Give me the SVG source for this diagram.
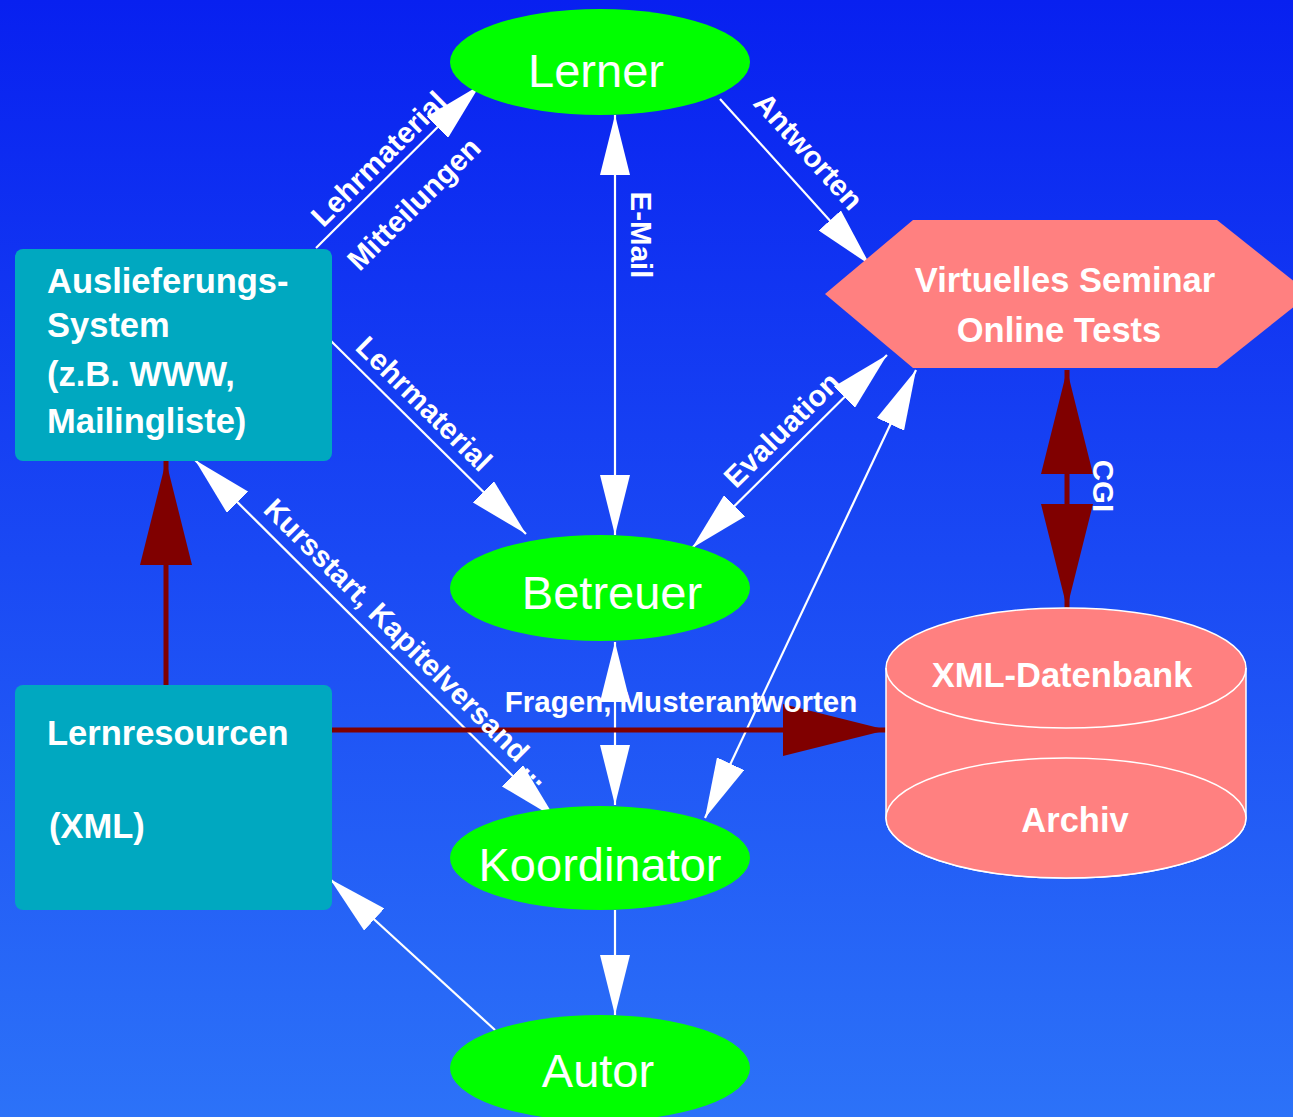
<svg xmlns="http://www.w3.org/2000/svg" width="1293" height="1117" viewBox="0 0 1293 1117">
<defs>
<linearGradient id="bg" x1="0" y1="0" x2="0" y2="1">
<stop offset="0" stop-color="#0820F0"/>
<stop offset="1" stop-color="#2C72F8"/>
</linearGradient>
<marker id="aw" viewBox="0 0 60 30" refX="60" refY="15" markerWidth="60" markerHeight="30" markerUnits="userSpaceOnUse" orient="auto-start-reverse">
<path d="M0,0 L60,15 L0,30 z" fill="#fff"/>
</marker>
<marker id="ar" viewBox="0 0 104 52" refX="104" refY="26" markerWidth="104" markerHeight="52" markerUnits="userSpaceOnUse" orient="auto-start-reverse">
<path d="M0,0 L104,26 L0,52 z" fill="#800000"/>
</marker>
<style>
.ell{fill:#00FF00}
.box{fill:#00A8C0}
.pink{fill:#FF8080}
.big{font-family:"Liberation Sans",Arial,sans-serif;font-size:47px;fill:#fff;text-anchor:middle}
.bt{font-family:"Liberation Sans",Arial,sans-serif;font-size:34.5px;font-weight:bold;fill:#fff}
.lbl{font-family:"Liberation Sans",Arial,sans-serif;font-size:29.5px;font-weight:bold;fill:#fff;text-anchor:middle}
.w{stroke:#fff;stroke-width:2.2;fill:none}
.r{stroke:#800000;stroke-width:5;fill:none}
</style>
</defs>
<rect x="0" y="0" width="1293" height="1117" fill="url(#bg)"/>

<g id="connectors">
<line class="w" x1="316" y1="248" x2="480" y2="85" marker-end="url(#aw)"/>
<line class="w" x1="330" y1="340" x2="526" y2="534" marker-end="url(#aw)"/>
<line class="w" x1="720" y1="99" x2="870" y2="265" marker-end="url(#aw)"/>
<line class="w" x1="615" y1="115" x2="615" y2="535" marker-start="url(#aw)" marker-end="url(#aw)"/>
<line class="w" x1="692" y1="548" x2="887" y2="355" marker-start="url(#aw)" marker-end="url(#aw)"/>
<line class="w" x1="705" y1="818" x2="916" y2="370" marker-start="url(#aw)" marker-end="url(#aw)"/>
<line class="w" x1="195" y1="460" x2="555" y2="818" marker-start="url(#aw)" marker-end="url(#aw)"/>
<line class="w" x1="615" y1="642" x2="615" y2="805" marker-start="url(#aw)" marker-end="url(#aw)"/>
<line class="w" x1="615" y1="910" x2="615" y2="1015" marker-end="url(#aw)"/>
<line class="w" x1="495" y1="1030" x2="330" y2="879" marker-end="url(#aw)"/>
<line class="r" x1="166" y1="685" x2="166" y2="461" marker-end="url(#ar)"/>
<line class="r" x1="332" y1="730" x2="887" y2="730" marker-end="url(#ar)"/>
<line class="r" x1="1067" y1="370" x2="1067" y2="608" marker-start="url(#ar)" marker-end="url(#ar)"/>
<text class="lbl" transform="translate(386,166) rotate(-44.8)">Lehrmaterial</text>
<text class="lbl" transform="translate(421,211) rotate(-44.8)">Mitteilungen</text>
<text class="lbl" transform="translate(801,158) rotate(47.9)">Antworten</text>
<text class="lbl" transform="translate(631,235) rotate(90)">E-Mail</text>
<text class="lbl" transform="translate(417,411) rotate(44.7)">Lehrmaterial</text>
<text class="lbl" transform="translate(789,437) rotate(-44.7)">Evaluation</text>
<text class="lbl" transform="translate(401,649) rotate(44.8)">Kursstart, Kapitelversand ...</text>
<text class="lbl" transform="translate(1093,486) rotate(90)">CGI</text>
<text class="lbl" x="681" y="712" font-size="30">Fragen, Musterantworten</text>
</g>

<g id="lerner">
<ellipse class="ell" cx="600" cy="62" rx="150" ry="53"/>
<text class="big" x="596" y="87">Lerner</text>
</g>
<g id="betreuer">
<ellipse class="ell" cx="600" cy="588" rx="150" ry="53"/>
<text class="big" x="612" y="609">Betreuer</text>
</g>
<g id="koordinator">
<ellipse class="ell" cx="600" cy="858" rx="150" ry="52"/>
<text class="big" x="600" y="881">Koordinator</text>
</g>
<g id="autor">
<ellipse class="ell" cx="600" cy="1068" rx="150" ry="53"/>
<text class="big" x="598" y="1087">Autor</text>
</g>
<g id="auslieferung">
<rect class="box" x="15" y="249" width="317" height="212" rx="8"/>
<text class="bt" x="47" y="293">Auslieferungs-</text>
<text class="bt" x="47" y="337">System</text>
<text class="bt" x="47" y="386">(z.B. WWW,</text>
<text class="bt" x="47" y="433">Mailingliste)</text>
</g>
<g id="lernresourcen">
<rect class="box" x="15" y="685" width="317" height="225" rx="8"/>
<text class="bt" x="47" y="745">Lernresourcen</text>
<text class="bt" x="49" y="838">(XML)</text>
</g>
<g id="seminar">
<polygon class="pink" points="825,294 913,220 1217,220 1310,294 1217,368 913,368"/>
<text class="bt" x="1065" y="292" text-anchor="middle">Virtuelles Seminar</text>
<text class="bt" x="1059" y="342" text-anchor="middle">Online Tests</text>
</g>
<g id="datenbank">
<path class="pink" d="M886,668 A180,60 0 0 1 1246,668 L1246,818 A180,60 0 0 1 886,818 Z" stroke="#fff" stroke-width="1.5"/>
<path d="M886,668 A180,60 0 0 0 1246,668" fill="none" stroke="#fff" stroke-width="1.5"/>
<ellipse class="pink" cx="1066" cy="818" rx="180" ry="60" stroke="#fff" stroke-width="1.5"/>
<text class="bt" x="1062" y="687" text-anchor="middle">XML-Datenbank</text>
<text class="bt" x="1075" y="832" text-anchor="middle">Archiv</text>
</g>
</svg>
